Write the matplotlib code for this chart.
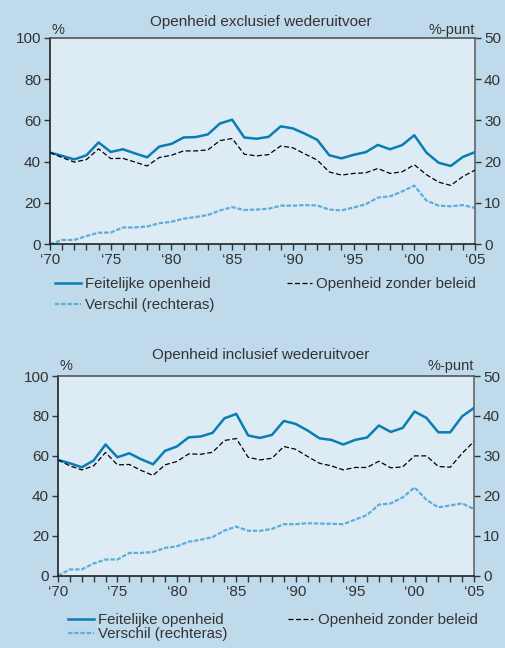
import matplotlib
matplotlib.use("Agg")
import matplotlib.pyplot as plt

plt.rcParams['font.family'] = ['Liberation Sans', 'DejaVu Sans']

years = list(range(1970, 2006))

excl_actual = [44.4, 42.8, 41.1, 43.1, 49.3, 44.7, 46.0, 44.0, 42.1, 47.3, 48.6, 51.7,
               51.9, 53.2, 58.5, 60.3, 51.7, 51.1, 52.0, 57.1, 56.1, 53.5, 50.6, 43.1,
               41.6, 43.3, 44.6, 48.1, 46.0, 48.0, 52.8, 44.4, 39.5, 37.9, 42.3, 44.6]
excl_nopolicy = [44.4, 42.0, 39.8, 41.0, 46.2, 41.5, 41.6, 39.8, 37.9, 42.0, 43.1, 45.2,
                 45.2, 45.7, 50.2, 51.2, 43.6, 42.8, 43.4, 47.6, 46.7, 43.7, 40.8, 35.0,
                 33.5, 34.3, 34.6, 36.7, 34.3, 35.1, 38.5, 33.7, 30.1, 28.5, 32.8, 35.9]
excl_diff = [0.0, 1.06, 1.06, 2.0, 2.8, 2.85, 4.05, 4.1, 4.3, 5.1, 5.45, 6.2,
             6.6, 7.1, 8.2, 9.0, 8.3, 8.4, 8.6, 9.35, 9.35, 9.5, 9.4, 8.4,
             8.2, 8.9, 9.7, 11.3, 11.6, 12.8, 14.2, 10.6, 9.35, 9.2, 9.5, 8.8]

incl_actual = [58.0, 56.3, 54.3, 57.7, 65.7, 59.3, 61.3, 58.3, 55.8, 62.5, 64.7, 69.3,
               69.7, 71.5, 78.8, 81.0, 70.2, 69.0, 70.5, 77.5, 76.0, 72.7, 68.8, 68.0,
               65.7, 68.0, 69.2, 75.2, 72.0, 74.0, 82.2, 79.0, 71.8, 71.8, 79.8, 84.0]
incl_nopolicy = [58.0, 55.0, 53.0, 55.0, 61.7, 55.5, 55.7, 52.7, 50.2, 55.5, 57.2, 61.0,
                 60.8, 61.8, 67.7, 68.7, 59.3, 58.0, 58.8, 64.7, 63.3, 59.7, 56.3, 55.0,
                 53.0, 54.2, 54.2, 57.3, 54.0, 54.5, 60.0, 60.0, 54.7, 54.3, 61.3, 67.2]
incl_diff = [0.0, 1.57, 1.57, 3.05, 4.05, 4.05, 5.7, 5.7, 5.95, 6.95, 7.35, 8.5,
             9.0, 9.65, 11.3, 12.3, 11.25, 11.25, 11.7, 12.9, 12.9, 13.15, 13.05, 13.0,
             12.9, 14.05, 15.2, 17.8, 18.1, 19.6, 22.1, 19.0, 17.1, 17.6, 18.1, 16.7]

titles = ["Openheid exclusief wederuitvoer", "Openheid inclusief wederuitvoer"]
labels = ["Feitelijke openheid", "Openheid zonder beleid", "Verschil (rechteras)"]
xtick_years = [1970, 1975, 1980, 1985, 1990, 1995, 2000, 2005]
xtick_labels = ["\u201870", "\u201875", "\u201880", "\u201885", "\u201890", "\u201895", "\u201800", "\u201805"]

BG = "#bfdaea"
AXBG = "#dcebf4"
C_ACT = "#0a7db4"
C_DIFF = "#5aaedb"
TXT = "#333333"

W, H = 506, 648
fig = plt.figure(figsize=(W / 100, H / 100), dpi=100, facecolor=BG)

def box(l, t, r, b):
    return [l / W, 1 - b / H, (r - l) / W, (b - t) / H]

panels = [
    dict(rect=box(50, 37.7, 475, 244.3), data=(excl_actual, excl_nopolicy, excl_diff),
         title_y=22, unit_y=30, leg=(55, 277), leg_sp=0.45, colsp=4.8),
    dict(rect=box(58, 376, 474, 575.7), data=(incl_actual, incl_nopolicy, incl_diff),
         title_y=355, unit_y=366, leg=(68, 613), leg_sp=0.0, colsp=4.0),
]

for i, p in enumerate(panels):
    ax = fig.add_axes(p["rect"])
    act, nop, dif = p["data"]
    ax2 = ax.twinx()
    l3, = ax2.plot(years, dif, color=C_DIFF, lw=1.6, dashes=(2, 0.8))
    l1, = ax.plot(years, act, color=C_ACT, lw=1.8)
    l2, = ax.plot(years, nop, color="black", lw=0.9, dashes=(4, 2))
    ax.set_zorder(ax2.get_zorder() + 1)
    ax.patch.set_visible(False)
    ax2.patch.set_visible(True)
    ax2.patch.set_facecolor(AXBG)
    ax.set_xlim(1970, 2005)
    ax.set_ylim(0, 100)
    ax2.set_ylim(0, 50)
    ax.set_yticks([0, 20, 40, 60, 80, 100])
    ax2.set_yticks([0, 10, 20, 30, 40, 50])
    ax.set_xticks(xtick_years)
    ax.set_xticklabels(xtick_labels)
    ax.set_xticks(years, minor=True)
    for a in (ax, ax2):
        a.tick_params(axis='both', which='both', direction='out', length=4.5, width=1,
                      labelsize=11, labelcolor=TXT, color="#333333", pad=2)
    ax.spines['left'].set_color("#222222")
    ax.spines['bottom'].set_color("#222222")
    ax.spines['top'].set_color("#555555")
    ax.spines['right'].set_visible(False)
    ax2.spines['right'].set_color("#666666")
    ax2.spines['left'].set_visible(False)
    ax2.spines['top'].set_visible(False)
    ax2.spines['bottom'].set_visible(False)
    for s in ax.spines.values():
        s.set_linewidth(1.2)
    ax2.spines['right'].set_linewidth(1.2)

    l, b, w, h = p["rect"]
    fig.text(0.515, 1 - p["title_y"] / H, titles[i], ha='center', va='center',
             fontsize=11, color=TXT)
    fig.text(l + 2 / W, 1 - p["unit_y"] / H, "%", ha='left', va='center', fontsize=10.5, color=TXT)
    fig.text(l + w, 1 - p["unit_y"] / H, "%-punt", ha='right', va='center', fontsize=10.5, color=TXT)

    lx, ly = p["leg"]
    fig.legend([l1, l3, l2], [labels[0], labels[2], labels[1]], ncol=2, loc='upper left',
               bbox_to_anchor=(lx / W, 1 - ly / H), frameon=False, fontsize=10.8,
               handlelength=1.7, handletextpad=0.3, columnspacing=p["colsp"],
               labelspacing=p["leg_sp"], labelcolor=TXT, borderaxespad=0, borderpad=0)

fig.savefig("out.png", dpi=100, facecolor=BG)
